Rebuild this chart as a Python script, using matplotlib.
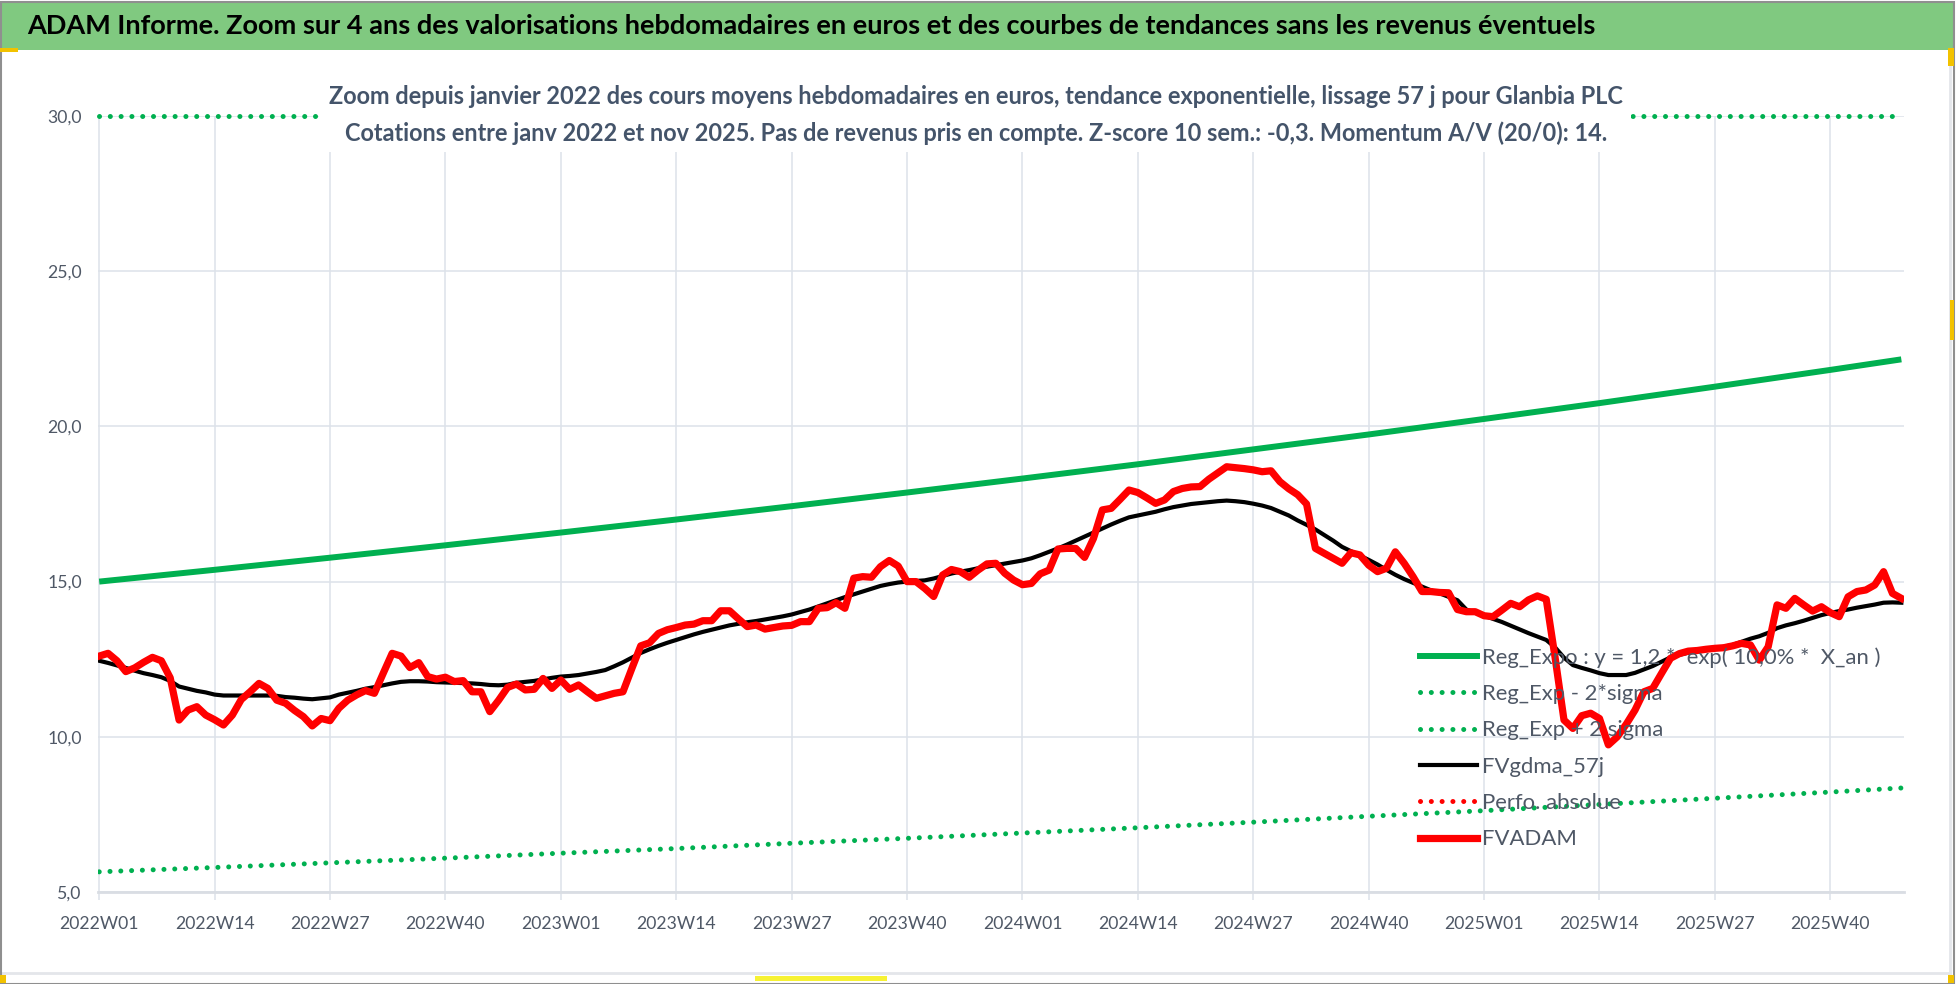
import numpy as np
import matplotlib
matplotlib.use("Agg")
import matplotlib.pyplot as plt
from matplotlib.patches import Rectangle
from matplotlib.lines import Line2D

FONT = ['Lato', 'DejaVu Sans']
plt.rcParams['font.family'] = FONT

# ---------------- data ----------------
tick_labels = ["2022W01", "2022W14", "2022W27", "2022W40", "2023W01", "2023W14",
               "2023W27", "2023W40", "2024W01", "2024W14", "2024W27", "2024W40",
               "2025W01", "2025W14", "2025W27", "2025W40"]

fvadam = [
    12.60, 12.69, 12.45, 12.10, 12.22, 12.40, 12.56, 12.45, 11.90, 10.54,
    10.86, 10.97, 10.70, 10.55, 10.38, 10.70, 11.20, 11.45, 11.72, 11.56,
    11.18, 11.08, 10.85, 10.65, 10.35, 10.59, 10.52, 10.92, 11.18, 11.35,
    11.49, 11.40, 12.05, 12.69, 12.60, 12.23, 12.39, 11.94, 11.86, 11.92,
    11.78, 11.81, 11.45, 11.45, 10.81, 11.18, 11.59, 11.70, 11.51, 11.53,
    11.88, 11.56, 11.83, 11.53, 11.67, 11.45, 11.24, 11.32, 11.40, 11.45,
    12.20, 12.93, 13.03, 13.33, 13.45, 13.52, 13.60, 13.63, 13.74, 13.74,
    14.06, 14.06, 13.80, 13.55, 13.60, 13.47, 13.52, 13.57, 13.59, 13.71,
    13.71, 14.14, 14.16, 14.32, 14.14, 15.11, 15.16, 15.14, 15.48, 15.68,
    15.50, 15.00, 15.00, 14.78, 14.52, 15.21, 15.39, 15.32, 15.14, 15.37,
    15.57, 15.59, 15.27, 15.05, 14.90, 14.94, 15.25, 15.37, 16.05, 16.07,
    16.07, 15.78, 16.39, 17.31, 17.36, 17.65, 17.95, 17.87, 17.70, 17.52,
    17.63, 17.90, 18.00, 18.05, 18.06, 18.30, 18.50, 18.70, 18.67, 18.64,
    18.60, 18.54, 18.57, 18.22, 17.99, 17.80, 17.50, 16.07, 15.91, 15.75,
    15.59, 15.93, 15.86, 15.53, 15.32, 15.43, 15.96, 15.59, 15.16, 14.68,
    14.68, 14.65, 14.64, 14.10, 14.03, 14.03, 13.90, 13.87, 14.08, 14.30,
    14.19, 14.41, 14.54, 14.43, 12.55, 10.54, 10.27, 10.68, 10.76, 10.59,
    9.74, 10.00, 10.40, 10.86, 11.45, 11.56, 12.05, 12.53, 12.68, 12.76,
    12.78, 12.82, 12.85, 12.87, 12.93, 13.01, 12.96, 12.47, 12.90, 14.25,
    14.14, 14.46, 14.25, 14.05, 14.19, 14.00, 13.87, 14.51, 14.68, 14.73,
    14.89, 15.32, 14.62, 14.46]

fvgdma_57j = [
    12.45, 12.38, 12.30, 12.22, 12.13, 12.05, 11.99, 11.92, 11.80, 11.62,
    11.55, 11.48, 11.43, 11.36, 11.33, 11.33, 11.33, 11.33, 11.33, 11.33,
    11.32, 11.28, 11.26, 11.23, 11.21, 11.24, 11.27, 11.36, 11.42, 11.48,
    11.55, 11.60, 11.66, 11.72, 11.77, 11.79, 11.79, 11.78, 11.76, 11.75,
    11.74, 11.73, 11.72, 11.70, 11.67, 11.66, 11.68, 11.74, 11.77, 11.80,
    11.85, 11.90, 11.94, 11.96, 11.99, 12.04, 12.09, 12.15, 12.27, 12.40,
    12.55, 12.70, 12.82, 12.93, 13.03, 13.12, 13.21, 13.30, 13.38, 13.45,
    13.52, 13.59, 13.64, 13.69, 13.73, 13.78, 13.83, 13.88, 13.94, 14.02,
    14.10, 14.20, 14.30, 14.40, 14.50, 14.59, 14.68, 14.77, 14.86, 14.92,
    14.97, 15.00, 15.02, 15.04, 15.10, 15.18, 15.26, 15.32, 15.37, 15.43,
    15.48, 15.53, 15.58, 15.63, 15.68, 15.75, 15.85, 15.96, 16.07, 16.19,
    16.32, 16.45, 16.58, 16.71, 16.84, 16.96, 17.07, 17.13, 17.19, 17.25,
    17.33, 17.40, 17.45, 17.50, 17.53, 17.56, 17.59, 17.61, 17.59, 17.56,
    17.51, 17.45, 17.37, 17.25, 17.13, 16.97, 16.83, 16.68, 16.50, 16.32,
    16.12, 15.98, 15.84, 15.70, 15.55, 15.38, 15.22, 15.08, 14.96, 14.84,
    14.72, 14.62, 14.51, 14.40, 14.10, 14.00, 13.90, 13.80, 13.70, 13.58,
    13.46, 13.34, 13.23, 13.12, 12.88, 12.55, 12.31, 12.22, 12.14, 12.05,
    11.99, 11.99, 11.99, 12.06, 12.17, 12.28, 12.42, 12.56, 12.64, 12.71,
    12.76, 12.80, 12.84, 12.90, 12.96, 13.06, 13.16, 13.24, 13.35, 13.50,
    13.59, 13.66, 13.74, 13.83, 13.92, 13.99, 14.05, 14.10, 14.16, 14.21,
    14.26, 14.32, 14.33, 14.32]

# trend curves read at each tick week and at the last week
trend_weeks = [0, 13, 26, 39, 52, 65, 78, 91, 104, 117, 130, 143, 156, 169, 182, 195, 203]
reg_expo = [15.00, 15.38, 15.77, 16.17, 16.58, 17.00, 17.43, 17.87, 18.32, 18.78,
            19.26, 19.74, 20.24, 20.75, 21.28, 21.82, 22.16]
reg_minus = [5.65, 5.79, 5.94, 6.09, 6.25, 6.40, 6.57, 6.73, 6.90, 7.07,
             7.25, 7.44, 7.62, 7.82, 8.02, 8.22, 8.35]
reg_plus = [39.8, 40.8, 41.9, 42.9, 44.0, 45.1, 46.3, 47.4, 48.6, 49.9,
            51.1, 52.4, 53.8, 55.1, 56.5, 58.0, 58.8]

title = ("ADAM Informe. Zoom sur 4 ans des valorisations hebdomadaires en euros "
         "et des courbes de tendances sans les revenus éventuels")
sub1 = ("Zoom depuis janvier 2022 des cours moyens hebdomadaires en euros, tendance "
        "exponentielle, lissage 57 j pour Glanbia PLC")
sub2 = ("Cotations entre janv 2022 et nov 2025. Pas de revenus pris en compte. "
        "Z-score 10 sem.: -0,3. Momentum A/V (20/0): 14.")
legend_labels = ["Reg_Expo : y = 1,2 *  exp( 10,0% *  X_an )", "Reg_Exp - 2*sigma",
                 "Reg_Exp + 2 sigma", "FVgdma_57j", "Perfo. absolue", "FVADAM"]

Y_MIN, Y_MAX = 5.0, 30.0

# ---------------- figure ----------------
W, H = 1958, 984
fig = plt.figure(figsize=(W / 100, H / 100), dpi=100)
fig.patch.set_facecolor('white')
renderer = fig.canvas.get_renderer()


def fit_size(text, target_px, weight='normal', base=20.0):
    t = fig.text(0, 0, text, fontsize=base, fontweight=weight)
    w = t.get_window_extent(renderer).width
    h = t.get_window_extent(renderer).height
    t.remove()
    return base * target_px / w, h * target_px / w


title_fs, _ = fit_size(title, 1565, 'bold')
sub_fs, _ = fit_size(sub1, 1296, 'bold')
tick_fs, _ = fit_size("2022W01", 72)
tick_fs *= 1.1
leg_fs, leg_h = fit_size(legend_labels[0], 381)
leg_fs *= 1.05
leg_h *= 1.05
leg_fs_px = leg_fs * 100 / 72
leg_spacing = max((38.4 - leg_h) / leg_fs_px, 0.05)

ax = fig.add_axes([98.3 / W, 1 - 892 / H, (1904 - 98.3) / W, (892 - 116) / H])
ax.set_facecolor('white')

x = np.arange(len(fvadam))
GREEN = '#00B050'
grid_c = '#dde2e9'
txt_c = '#4f5866'

dot = (0, (0.01, 2.15))
ax.plot(trend_weeks, reg_expo, color=GREEN, lw=4.3, solid_capstyle='butt', zorder=3)
ax.plot(trend_weeks, reg_minus, color=GREEN, lw=3.6, ls=dot, dash_capstyle='round', zorder=3)
ax.plot(trend_weeks, np.minimum(reg_plus, Y_MAX), color=GREEN, lw=3.6, ls=dot,
        dash_capstyle='round', zorder=3, clip_on=False)
ax.plot(x, fvgdma_57j, color='black', lw=3.0, zorder=4)
ax.plot(x, fvadam, color='#FF0000', lw=5.2, zorder=5, solid_joinstyle='round')

ax.set_xlim(-0.1, 203.3)
ax.set_ylim(Y_MIN, Y_MAX)
ax.set_xticks(np.arange(len(tick_labels)) * 13)
ax.set_xticklabels(tick_labels)
yt = np.arange(5, 31, 5)
ax.set_yticks(yt)
ax.set_yticklabels([f"{v:.1f}".replace('.', ',') for v in yt])

ax.grid(True, color=grid_c, lw=1.1, zorder=0)
ax.set_axisbelow(True)
for s in ['top', 'right', 'left']:
    ax.spines[s].set_visible(False)
ax.spines['bottom'].set_color('#d9dde3')
ax.spines['bottom'].set_linewidth(2.0)
ax.tick_params(axis='x', direction='out', length=6, width=1.1, color=grid_c,
               pad=11, labelsize=tick_fs, labelcolor=txt_c)
ax.tick_params(axis='y', length=0, pad=12, labelsize=tick_fs, labelcolor=txt_c)

# legend
handles = [
    Line2D([], [], color=GREEN, lw=4.3),
    Line2D([], [], color=GREEN, lw=3.6, ls=dot, dash_capstyle='round'),
    Line2D([], [], color=GREEN, lw=3.6, ls=dot, dash_capstyle='round'),
    Line2D([], [], color='black', lw=3.0),
    Line2D([], [], color='#FF0000', lw=3.6, ls=dot, dash_capstyle='round'),
    Line2D([], [], color='#FF0000', lw=5.2),
]
first_top = 658 - leg_h / 2
leg = fig.legend(handles, legend_labels, loc='upper left',
                 bbox_to_anchor=(1420 / W, 1 - first_top / H), frameon=False,
                 fontsize=leg_fs, labelcolor=txt_c, handlelength=57 / leg_fs_px,
                 handletextpad=5 / leg_fs_px, labelspacing=leg_spacing,
                 borderpad=0, borderaxespad=0)
leg.set_zorder(6)

# title bar
fig.patches.append(Rectangle((2 / W, 1 - 50 / H), 1953 / W, 48 / H, transform=fig.transFigure,
                             facecolor='#80C980', edgecolor='none', zorder=1))
fig.text(27 / W, 1 - 26 / H, title, ha='left', va='center', fontsize=title_fs,
         fontweight='bold', color='black', zorder=2)

# subtitle box
fig.patches.append(Rectangle((319 / W, 1 - 152 / H), (1631 - 319) / W, (152 - 62) / H,
                             transform=fig.transFigure, facecolor='white',
                             edgecolor='none', zorder=7))
fig.text(976 / W, 1 - 97 / H, sub1, ha='center', va='center', fontsize=sub_fs,
         fontweight='bold', color='#44546A', zorder=8)
fig.text(976 / W, 1 - 133 / H, sub2, ha='center', va='center', fontsize=sub_fs,
         fontweight='bold', color='#44546A', zorder=8)

# frame
fig.patches.append(Rectangle((0.5 / W, 0.5 / H), (W - 4) / W, (H - 2) / H,
                             transform=fig.transFigure, fill=False,
                             edgecolor='#8f8f8f', lw=1.5, zorder=9))
fig.add_artist(Line2D([0, 1950 / W], [1 - 973 / H] * 2, color='#e4e6ea', lw=2,
                      transform=fig.transFigure, zorder=9))
fig.add_artist(Line2D([1950 / W] * 2, [1 - 973 / H, 1 - 52 / H], color='#e4e6ea', lw=2,
                      transform=fig.transFigure, zorder=9))
for (px, py, pw, ph) in [(0, 48, 18, 4), (1948, 48, 6, 18), (0, 975, 6, 8),
                         (1948, 975, 6, 8), (755, 976, 132, 5), (1950, 300, 4, 40)]:
    fig.patches.append(Rectangle((px / W, 1 - (py + ph) / H), pw / W, ph / H,
                                 transform=fig.transFigure,
                                 facecolor='#f2c200' if pw != 132 else '#f7f234',
                                 edgecolor='none', zorder=10))

fig.savefig('out.png', dpi=100)
